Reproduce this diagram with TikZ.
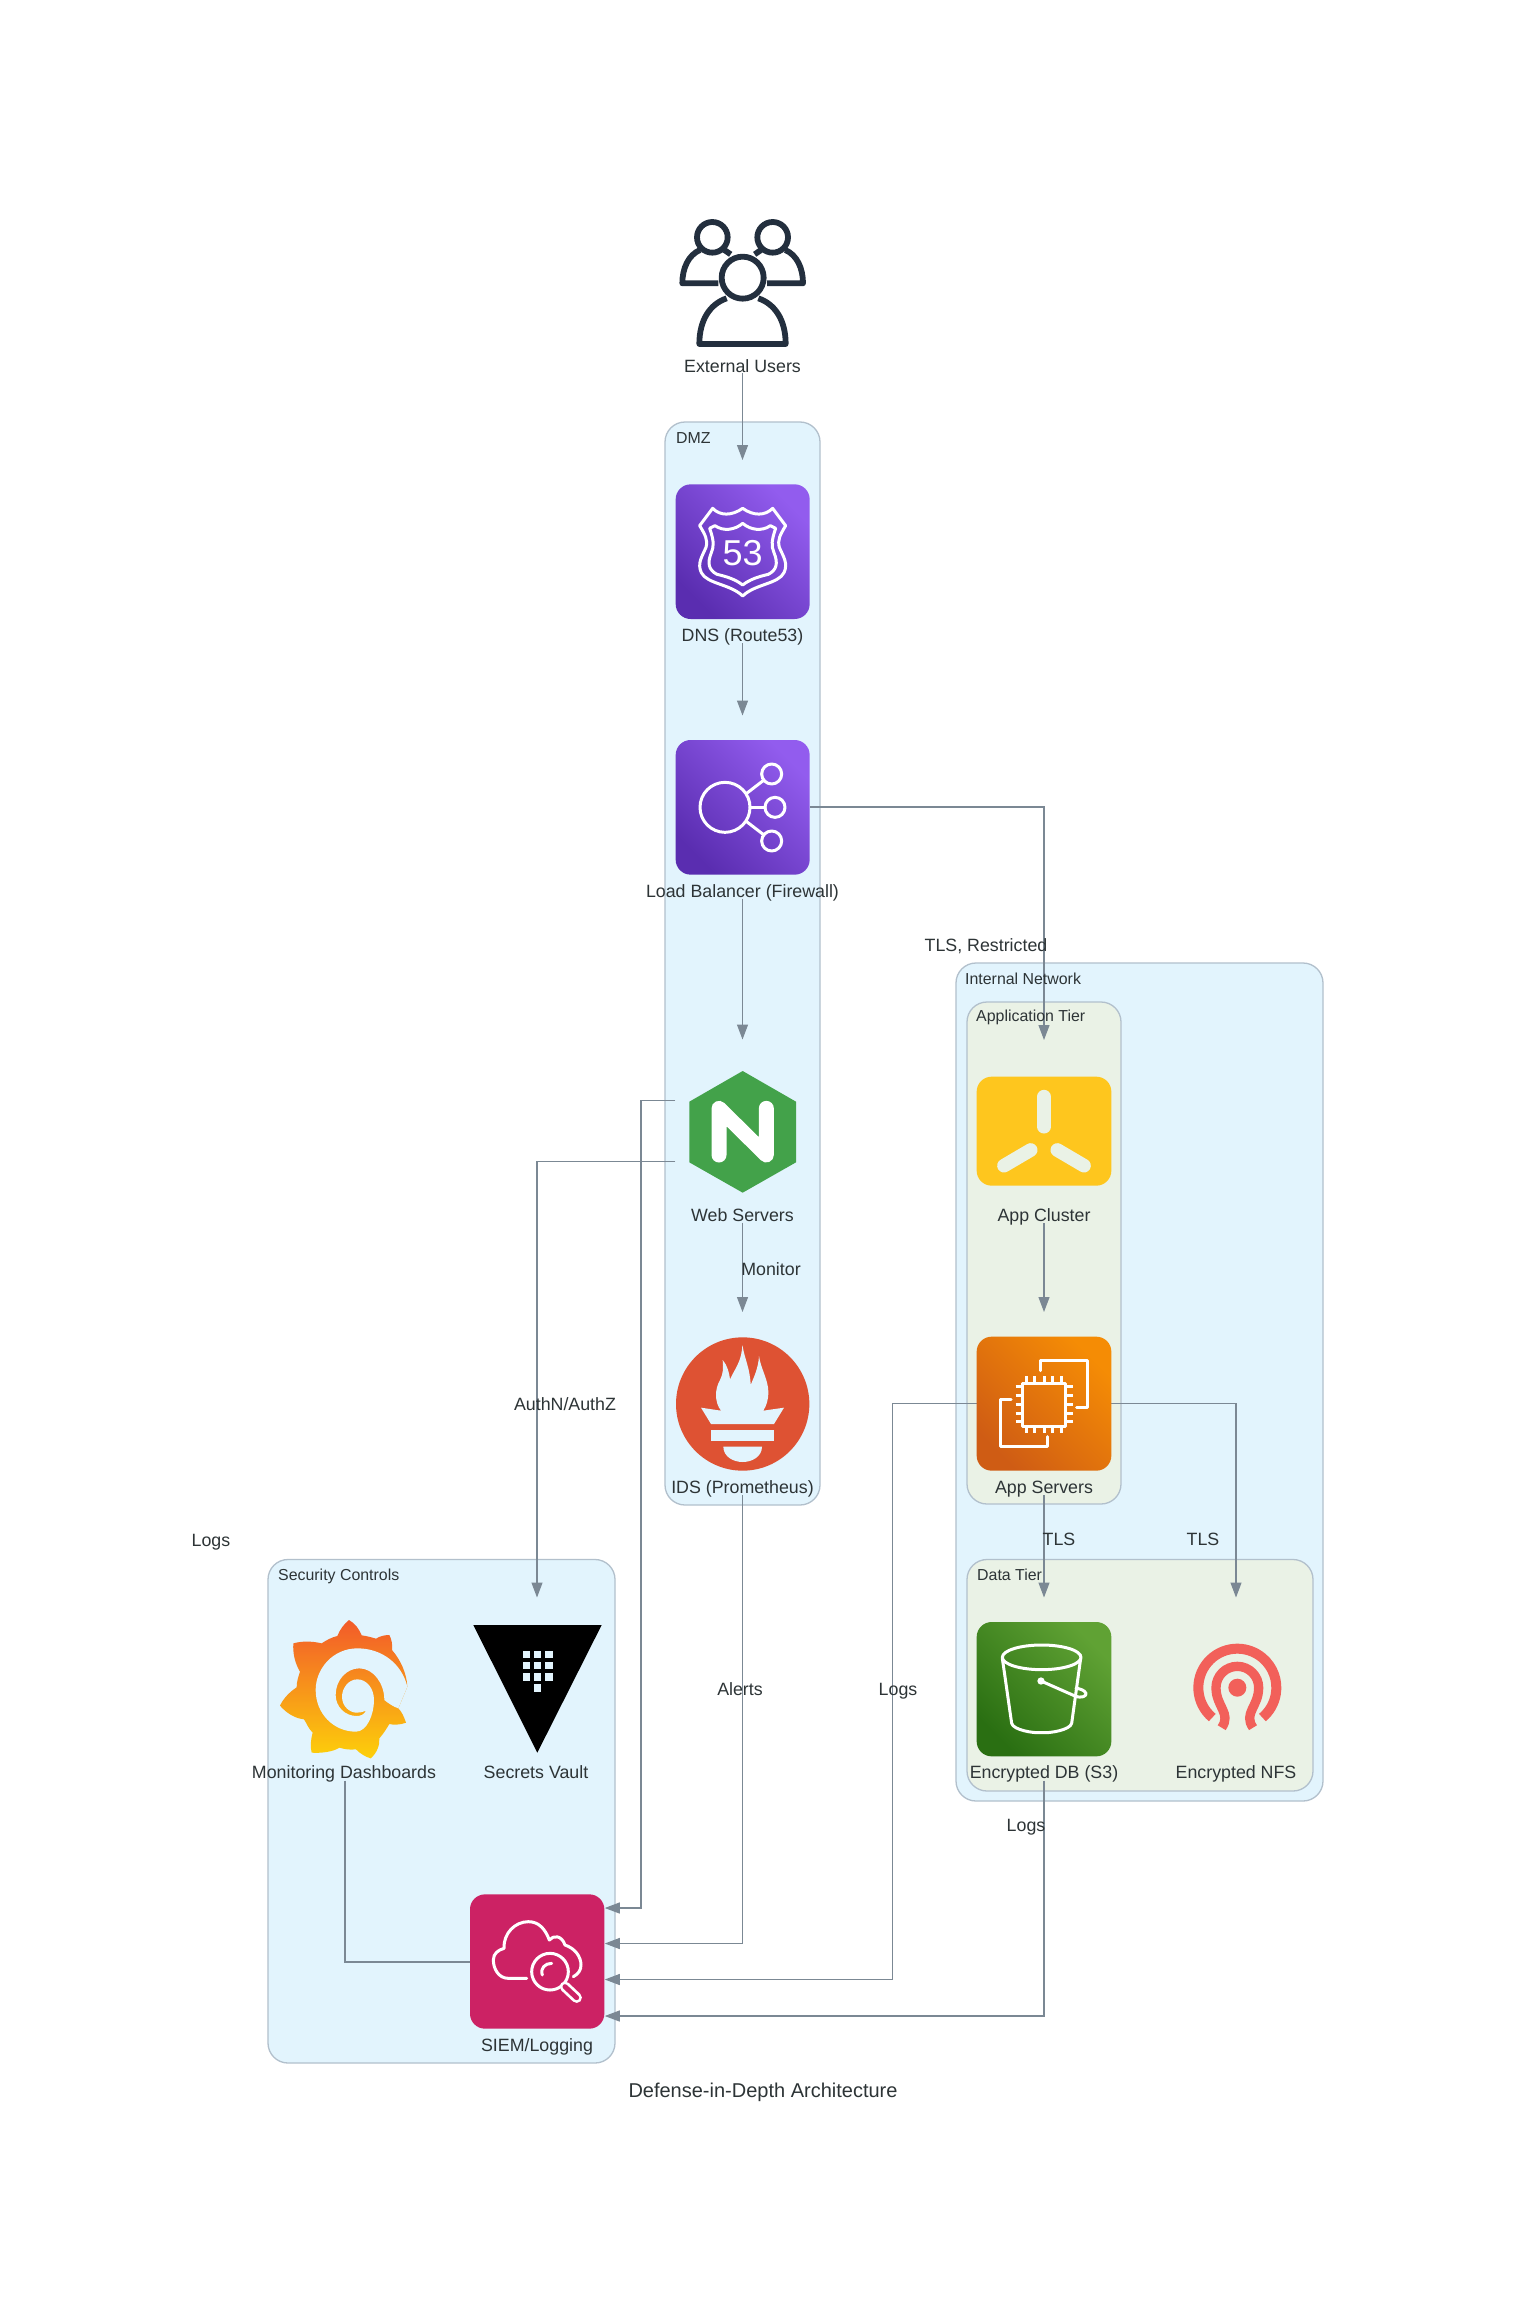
\documentclass[tikz,border=0pt]{standalone}
\usepackage{fontspec}
\setmainfont{Liberation Sans}
\usetikzlibrary{arrows.meta,calc}
\definecolor{bluebg}{HTML}{E2F4FD}
\definecolor{greenbg}{HTML}{EAF2E6}
\definecolor{clborder}{HTML}{B2C0CC}
\definecolor{edgecol}{HTML}{7B8894}
\definecolor{txt}{HTML}{2D3436}
\definecolor{navy}{HTML}{232F3E}
\definecolor{pdark}{HTML}{5A2DB0}
\definecolor{plight}{HTML}{925CEE}
\definecolor{odark}{HTML}{CF5C14}
\definecolor{olight}{HTML}{F58C05}
\definecolor{gdark}{HTML}{2A6F12}
\definecolor{glight}{HTML}{60A234}
\definecolor{nginxg}{HTML}{43A24A}
\definecolor{promred}{HTML}{DE5233}
\definecolor{yel}{HTML}{FEC61E}
\definecolor{cephred}{HTML}{F2605A}
\definecolor{siemred}{HTML}{CC2264}
\definecolor{graftop}{HTML}{F25A2A}
\definecolor{grafbot}{HTML}{FDD00A}
\tikzset{
  cluster/.style={draw=clborder,line width=1.3pt,rounded corners=20pt},
  nodebox/.style={inner sep=0pt,outer sep=0pt,minimum width=134.5pt,minimum height=183pt},
  edge/.style={draw=edgecol,line width=1.15pt,-{Triangle[length=15pt,width=11pt]}},
  plainedge/.style={draw=edgecol,line width=1.15pt},
  lbl/.style={anchor=base,inner sep=0pt,text=txt,font=\fontsize{17.8}{20}\selectfont},
  elbl/.style={anchor=base,inner sep=0pt,text=txt,font=\fontsize{17.8}{20}\selectfont},
  clbl/.style={anchor=base west,inner sep=0pt,text=txt,font=\fontsize{15.9}{18}\selectfont},
  ttl/.style={anchor=base,inner sep=0pt,text=txt,font=\fontsize{20}{24}\selectfont},
  wline/.style={draw=white,line width=3pt,line cap=round,line join=round},
  tile/.style={rounded corners=15pt},
}
\begin{document}
\begin{tikzpicture}[x=1pt,y=-1pt]
\useasboundingbox (0,0) rectangle (1527,2298);
% clusters
\fill[white] (0,0) rectangle (1527,2298);
\draw[cluster,fill=bluebg] (665,422) rectangle (820,1505);
\draw[cluster,fill=bluebg] (956,963) rectangle (1323,1801);
\draw[cluster,fill=greenbg] (967,1002) rectangle (1121,1504);
\draw[cluster,fill=greenbg] (967,1559.5) rectangle (1313,1791);
\draw[cluster,fill=bluebg] (268,1559.5) rectangle (615,2063);
% node frames (invisible)
\node[nodebox] (users) at (742.5,281.5) {};
\node[nodebox] (dns) at (742.5,551.5) {};
\node[nodebox] (lb) at (742.5,807) {};
\node[nodebox] (web) at (742.5,1131) {};
\node[nodebox] (ids) at (742.5,1403.5) {};
\node[nodebox] (app) at (1044,1131.5) {};
\node[nodebox] (ec2) at (1044,1403.5) {};
\node[nodebox] (s3) at (1044,1689) {};
\node[nodebox] (nfs) at (1236,1689) {};
\node[nodebox] (graf) at (345,1689) {};
\node[nodebox] (vault) at (537,1689) {};
\node[nodebox] (siem) at (537.5,1962) {};
\coordinate (webA) at ([yshift=30.5pt]web.west);
\coordinate (webB) at ([yshift=-30.5pt]web.west);
\coordinate (siemA) at ([yshift=54pt]siem.east);
\coordinate (siemB) at ([yshift=18.5pt]siem.east);
\coordinate (siemC) at ([yshift=-17.5pt]siem.east);
\coordinate (siemD) at ([yshift=-54pt]siem.east);
\coordinate (bendW) at (641,1500);
\coordinate (bendE) at (892.5,1500);
% connectors
\draw[edge] (users.south) -- (dns.north);
\draw[edge] (dns.south) -- (lb.north);
\draw[edge] (lb.east) -| (app.north);
\draw[edge] (lb.south) -- (web.north);
\draw[edge] (web.south) -- (ids.north);
\draw[edge] (webB) -| (vault.north);
\draw[edge] (webA) -| (bendW |- siemA) -- (siemA);
\draw[edge] (ids.south) |- (siemB);
\draw[edge] (app.south) -- (ec2.north);
\draw[edge] (ec2.south) -- (s3.north);
\draw[edge] (ec2.east) -| (nfs.north);
\draw[edge] (ec2.west) -| (bendE |- siemC) -- (siemC);
\draw[edge] (s3.south) |- (siemD);
\draw[plainedge] (graf.south) |- (siem.west);

% Users icon
\begin{scope}[shift={(620pt,-200pt)},x=0.33333pt,y=-0.33333pt]
\draw[navy,line width=5.8pt,line join=round] (368,233) circle[radius=63];
\draw[navy,line width=5.8pt,line join=round] (320,295) .. controls (270,312) and (238,360) .. (238,432) -- (497,432) .. controls (497,360) and (465,312) .. (415,295);
\draw[navy,line width=5.8pt] (277,112) circle[radius=46];
\draw[navy,line width=5.8pt] (458,112) circle[radius=46];
\draw[navy,line width=5.8pt,line join=round] (240,150) .. controls (205,165) and (187,205) .. (187,250) -- (295,250);
\draw[navy,line width=5.8pt,line join=round] (496,150) .. controls (531,165) and (549,205) .. (549,250) -- (441,250);
\draw[navy,line width=5.8pt] (313,150) -- (332,163);
\draw[navy,line width=5.8pt] (423,150) -- (404,163);
\end{scope}

% Route53 icon
\begin{scope}[shift={(640pt,-460pt)},x=0.33333pt,y=-0.33333pt]
\shade[tile,left color=pdark,right color=plight,shading angle=135] (107,73) rectangle (509,477);
\draw[wline] (218,145) .. controls (240,168) and (275,168) .. (308,145) .. controls (340,168) and (375,168) .. (398,145) -- (437,197) .. controls (420,225) and (412,240) .. (418,262) .. controls (430,290) and (445,310) .. (432,338) .. controls (415,372) and (345,372) .. (308,408) .. controls (271,372) and (201,372) .. (184,338) .. controls (171,310) and (186,290) .. (198,262) .. controls (204,240) and (196,225) .. (179,197) -- cycle;
\draw[wline] (225,197) .. controls (250,215) and (285,210) .. (308,190) .. controls (331,210) and (366,215) .. (391,197) -- (407,205) .. controls (395,240) and (393,258) .. (402,278) .. controls (415,310) and (410,330) .. (385,343) .. controls (355,350) and (330,358) .. (308,375) .. controls (286,358) and (261,350) .. (231,343) .. controls (206,330) and (201,310) .. (214,278) .. controls (223,258) and (221,240) .. (209,205) -- cycle;
\node[inner sep=0pt,text=white,font=\fontsize{36}{36}\selectfont] (r53) at (308,280) {53};
\end{scope}

% Load balancer icon
\begin{scope}[shift={(640pt,-460pt)},x=0.33333pt,y=-0.33333pt]
\shade[tile,left color=pdark,right color=plight,shading angle=135] (107,840) rectangle (509,1244);
\draw[wline] (255,1042) circle[radius=75];
\draw[wline] (395,942) circle[radius=30];
\draw[wline] (405,1042) circle[radius=30];
\draw[wline] (395,1143) circle[radius=30];
\draw[wline] (320,1000) -- (372,960);
\draw[wline] (330,1042) -- (375,1042);
\draw[wline] (320,1085) -- (372,1125);
\end{scope}

% NGINX and Prometheus icons
\begin{scope}[shift={(640pt,-1040pt)},x=0.33333pt,y=-0.33333pt]
\fill[nginxg] (308,93) -- (468,185) -- (468,367) -- (308,458) -- (148,367) -- (148,185) -- cycle;
\draw[white,line width=15pt,line cap=round,line join=round] (237,345) -- (237,205) -- (379,345) -- (379,205);
\fill[promred] (308,1092) circle[radius=200];
\fill[bluebg] (243,1112) .. controls (222,1085) and (225,1045) .. (240,1020) .. controls (250,1000) and (250,985) .. (248,960) .. controls (262,975) and (268,1000) .. (270,1018) .. controls (285,985) and (305,965) .. (307,915) .. controls (315,960) and (330,985) .. (332,1035) .. controls (342,1010) and (355,985) .. (357,948) .. controls (362,985) and (385,1020) .. (385,1055) .. controls (385,1080) and (380,1095) .. (370,1112) -- (432,1103) -- (402,1152) -- (213,1152) -- (183,1103) -- cycle;
\fill[bluebg] (213,1170) rectangle (402,1204);
\fill[bluebg] (250,1220) .. controls (250,1250) and (280,1266) .. (308,1266) .. controls (336,1266) and (366,1250) .. (366,1220) -- cycle;
\end{scope}

% App cluster and EC2 icons
\begin{scope}[shift={(950pt,-1020pt)},x=0.33333pt,y=-0.33333pt]
\fill[tile,yel] (80,170) rectangle (484,497);
\draw[greenbg,line width=13.7pt,line cap=round] (282,230) -- (282,320);
\draw[greenbg,line width=13.7pt,line cap=round] (162,437) -- (242,390);
\draw[greenbg,line width=13.7pt,line cap=round] (402,437) -- (322,390);
\shade[tile,left color=odark,right color=olight,shading angle=135] (80,950) rectangle (484,1352);
\draw[wline] (218,1090) rectangle (347,1218);
\foreach \p in {228,254,282,308,335} {
  \draw[wline,line cap=butt] (\p,1068) -- (\p,1090);
  \draw[wline,line cap=butt] (\p,1218) -- (\p,1238);
}
\foreach \p in {1100,1127,1153,1180,1205} {
  \draw[wline,line cap=butt] (197,\p) -- (218,\p);
  \draw[wline,line cap=butt] (347,\p) -- (368,\p);
}
\draw[wline] (270,1052) -- (270,1022) -- (412,1022) -- (412,1162) -- (380,1162);
\draw[wline] (183,1138) -- (152,1138) -- (152,1280) -- (293,1280) -- (293,1250);
\end{scope}

% S3 and Ceph icons
\begin{scope}[shift={(950pt,-1560pt)},x=0.33333pt,y=-0.33333pt]
\shade[tile,left color=gdark,right color=glight,shading angle=135] (80,186) rectangle (484,589);
\draw[wline] (275,292) ellipse[x radius=118,y radius=37];
\draw[wline] (157,295) -- (185,490) .. controls (190,510) and (250,520) .. (275,518) .. controls (300,520) and (360,510) .. (365,490) -- (392,295);
\fill[white] (273,363) circle[radius=11];
\draw[wline] (273,363) -- (375,408) .. controls (395,416) and (410,408) .. (408,400) .. controls (405,390) and (385,385) .. (378,385);
\draw[cephred,line width=10pt] (786.8,472.6) arc[start angle=130,end angle=410,radius=117];
\draw[cephred,line width=9.3pt] (815,503) .. controls (845,460) and (798,440) .. (798,383) arc[start angle=180,end angle=360,radius=64] .. controls (926,440) and (879,460) .. (909,503);
\fill[cephred] (862,383) circle[radius=27];
\end{scope}

% Grafana and Vault icons
\begin{scope}[shift={(250pt,-1560pt)},x=0.33333pt,y=-0.33333pt]
\shade[top color=graftop,bottom color=grafbot] (297,180) .. controls (315,190) and (328,208) .. (335,226) .. controls (350,228) and (365,232) .. (378,236) .. controls (390,228) and (405,225) .. (418,225) .. controls (425,238) and (428,255) .. (426,270) .. controls (452,300) and (470,340) .. (472,380) -- (445,445) .. controls (455,455) and (462,470) .. (468,488) .. controls (450,495) and (430,495) .. (418,492) .. controls (410,505) and (400,522) .. (388,535) .. controls (390,555) and (380,580) .. (362,595) .. controls (345,590) and (330,580) .. (318,568) .. controls (300,570) and (285,568) .. (268,563) .. controls (250,575) and (215,580) .. (185,578) .. controls (180,560) and (183,535) .. (188,518) .. controls (175,505) and (170,490) .. (162,478) .. controls (135,475) and (110,460) .. (90,437) .. controls (100,415) and (120,395) .. (140,382) .. controls (140,365) and (145,350) .. (150,335) .. controls (135,310) and (128,280) .. (130,250) .. controls (155,243) and (185,243) .. (215,250) .. controls (230,240) and (245,232) .. (262,228) .. controls (270,208) and (282,192) .. (297,180) -- cycle;
\fill[bluebg] (472,380) .. controls (455,310) and (395,265) .. (322,265) .. controls (250,265) and (197,325) .. (197,390) .. controls (197,460) and (250,515) .. (318,515) .. controls (350,515) and (372,465) .. (372,420) .. controls (372,385) and (350,358) .. (322,358) .. controls (295,358) and (276,385) .. (276,410) .. controls (276,440) and (300,458) .. (320,458) .. controls (330,458) and (340,456) .. (348,452) .. controls (342,465) and (330,468) .. (320,468) .. controls (285,468) and (257,440) .. (257,405) .. controls (257,360) and (290,325) .. (328,325) .. controls (370,325) and (403,370) .. (403,420) .. controls (415,430) and (430,440) .. (445,445) -- cycle;
\fill[black] (670,195) -- (1055,195) -- (862,578) -- cycle;
\foreach \cx in {818,852,886} \foreach \cy in {273,306,340} {
  \fill[bluebg] (\cx,\cy) rectangle ++(22,22);
}
\fill[bluebg] (852,373) rectangle ++(22,22);
\end{scope}

% SIEM icon
\begin{scope}[shift={(450pt,-1870pt)},x=0.33333pt,y=-0.33333pt]
\fill[tile,siemred] (60,73) rectangle (463,476);
\draw[wline] (230,325) -- (175,325) .. controls (145,325) and (130,295) .. (130,270) .. controls (130,250) and (145,240) .. (162,235) .. controls (160,190) and (195,155) .. (235,155) .. controls (265,155) and (285,175) .. (298,210) .. controls (310,195) and (335,195) .. (345,225) .. controls (375,235) and (393,260) .. (393,285) .. controls (393,300) and (385,312) .. (370,320);
\draw[wline] (300,305) circle[radius=55];
\draw[wline] (277,315) .. controls (270,295) and (285,280) .. (305,280);
\draw[white,line width=10.5pt,line cap=round] (345,350) -- (380,383);
\draw[siemred,line width=5pt,line cap=round] (345,350) -- (380,383);
\end{scope}

% node labels
\node[lbl] (tusers) at (742.5,372) {External Users};
\node[lbl] (tdns) at (742.5,641.5) {DNS (Route53)};
\node[lbl] (tlb) at (742.5,897) {Load Balancer (Firewall)};
\node[lbl] (tweb) at (742.5,1221) {Web Servers};
\node[lbl] (tids) at (742.5,1493) {IDS (Prometheus)};
\node[lbl] (tapp) at (1044,1221) {App Cluster};
\node[lbl] (tec2) at (1044,1493) {App Servers};
\node[lbl] (ts3) at (1044,1778) {Encrypted DB (S3)};
\node[lbl] (tnfs) at (1236,1778) {Encrypted NFS};
\node[lbl] (tgraf) at (344,1778) {Monitoring Dashboards};
\node[lbl] (tvault) at (536,1778) {Secrets Vault};
\node[lbl] (tsiem) at (537,2051) {SIEM/Logging};
% cluster labels
\node[clbl] (cdmz) at (676,443) {DMZ};
\node[clbl] (cint) at (965,984) {Internal Network};
\node[clbl] (capp) at (976,1021.5) {Application Tier};
\node[clbl] (cdata) at (977,1580) {Data Tier};
\node[clbl] (csec) at (278,1580) {Security Controls};
% edge labels
\node[elbl] (e1) at (986,951) {TLS, Restricted};
\node[elbl] (e2) at (771,1275) {Monitor};
\node[elbl] (e3) at (565,1410) {AuthN/AuthZ};
\node[elbl] (e4) at (211,1546.5) {Logs};
\node[elbl] (e5) at (1059,1545.5) {TLS};
\node[elbl] (e6) at (1203,1545.5) {TLS};
\node[elbl] (e7) at (740,1695) {Alerts};
\node[elbl] (e8) at (898,1695) {Logs};
\node[elbl] (e9) at (1026,1831) {Logs};
\node[ttl] (title) at (763,2097) {Defense-in-Depth Architecture};
\end{tikzpicture}
\end{document}
